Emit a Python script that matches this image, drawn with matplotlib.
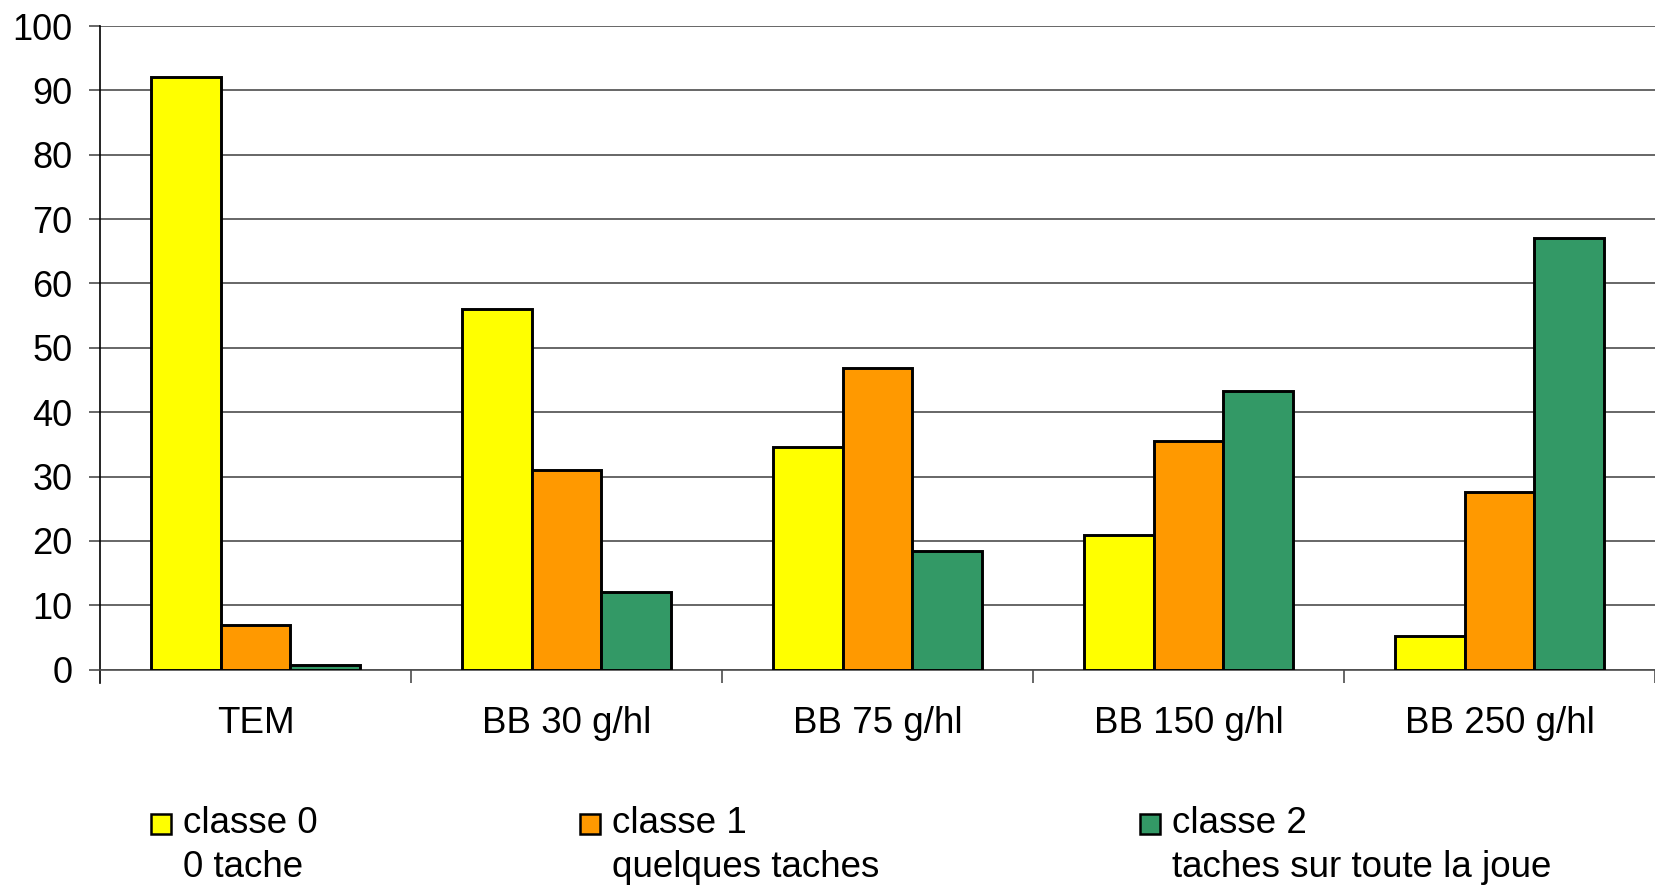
import matplotlib
matplotlib.use("Agg")
import matplotlib.pyplot as plt
from matplotlib.patches import Rectangle
import numpy as np

plt.rcParams['font.family'] = ['Liberation Sans', 'DejaVu Sans']

categories = ["TEM", "BB 30 g/hl", "BB 75 g/hl", "BB 150 g/hl", "BB 250 g/hl"]
classe0 = [92.0, 56.0, 34.6, 21.0, 5.2]
classe1 = [6.9, 31.0, 46.8, 35.5, 27.6]
classe2 = [0.8, 12.1, 18.4, 43.3, 67.1]
series_labels = [("classe 0", "0 tache"), ("classe 1", "quelques taches"),
                 ("classe 2", "taches sur toute la joue")]
colors = ["#FFFF00", "#FF9900", "#339966"]
yticks = list(range(0, 101, 10))

W, H = 1655, 888
fig = plt.figure(figsize=(W / 100, H / 100), dpi=100)
left = 100 / W
bottom = 1 - 669.7 / H
top = 1 - 26 / H
ax = fig.add_axes([left, bottom, 1 - left, top - bottom])

x = np.arange(len(categories))
bw = 0.224
for i, (vals, c) in enumerate(zip([classe0, classe1, classe2], colors)):
    ax.bar(x + (i - 1) * bw, vals, width=bw, color=c, edgecolor="black",
           linewidth=2.1, zorder=3)

ax.set_ylim(0, 100)
ax.set_xlim(-0.5, (W - 100) / 312.75 - 0.5)
ax.set_yticks(yticks)
ax.set_yticklabels([str(t) for t in yticks], fontsize=26)
ax.yaxis.grid(True, color="#4d4d4d", linewidth=1.2, zorder=0)
ax.set_axisbelow(True)

ax.set_xticks(x)
ax.set_xticklabels(categories, fontsize=26.5)
ax.set_xticks(np.arange(len(categories)) + 0.5, minor=True)
ax.tick_params(axis="x", which="major", length=0, pad=26)
ax.tick_params(axis="x", which="minor", length=9, width=1.2, color="#4d4d4d")
ax.tick_params(axis="y", length=8, width=1.2, color="#4d4d4d", pad=12)

for s in ["top", "right"]:
    ax.spines[s].set_visible(False)
ax.spines["left"].set_color("black")
ax.spines["left"].set_linewidth(1.2)
ax.spines["left"].set_bounds(-2, 100)
ax.spines["bottom"].set_color("#4d4d4d")
ax.spines["bottom"].set_linewidth(1.2)

# legend
sq_x = [150.7, 580, 1140]
for (l1, l2), c, sx in zip(series_labels, colors, sq_x):
    fig.add_artist(Rectangle((sx / W, 1 - 834 / H), 20 / W, 20 / H,
                             transform=fig.transFigure, facecolor=c,
                             edgecolor="black", linewidth=1.8))
    tx = (sx + 32) / W
    fig.text(tx, 1 - 833.3 / H, l1, fontsize=26.5, va="baseline", ha="left")
    fig.text(tx, 1 - 876.7 / H, l2, fontsize=26.5, va="baseline", ha="left")

fig.savefig("out.png", dpi=100)
